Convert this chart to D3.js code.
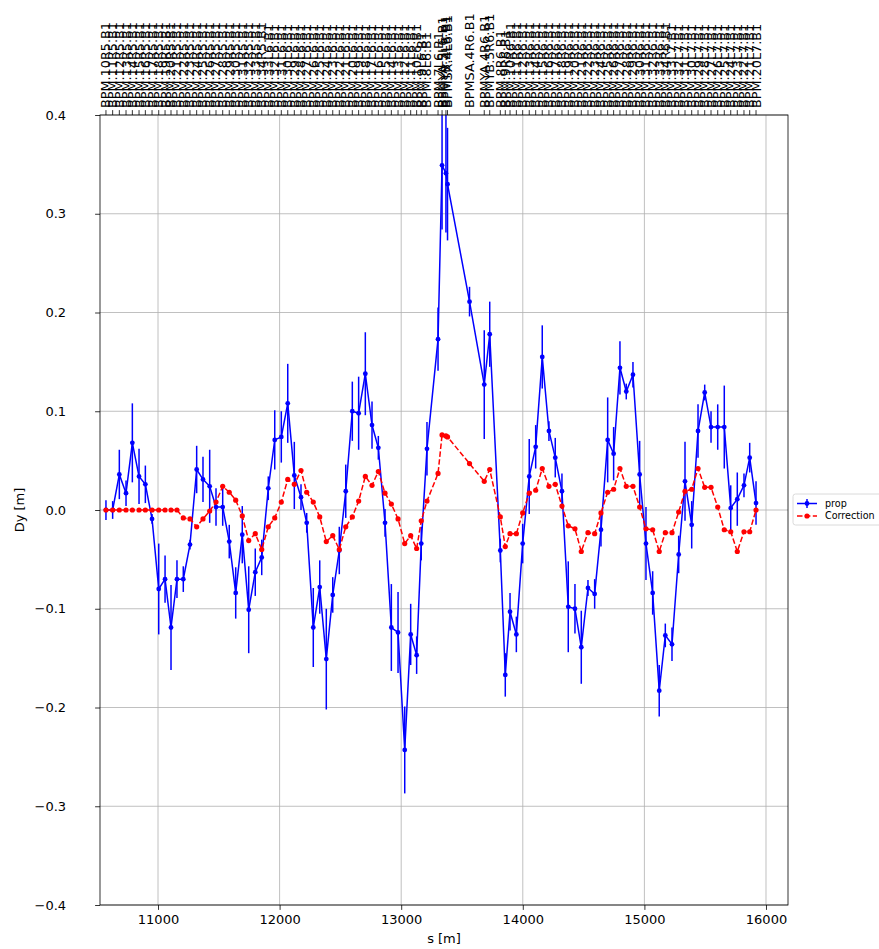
<!DOCTYPE html>
<html>
<head>
<meta charset="utf-8">
<script src="https://cdn.jsdelivr.net/npm/d3@7/dist/d3.min.js"></script>
<style>
  html, body { margin: 0; padding: 0; background: #fff; }
  svg { display: block; font-family: "DejaVu Sans", sans-serif; }
</style>
</head>
<body>
<svg id="chart" width="879" height="949"></svg>
<script>
// ---------------- data ----------------
const sPos = [10572,10627,10682,10737,10789,10844,10896,10951,11006,11058,
  11107,11156,11208,11263,11318,11370,11425,11477,11532,11586,
  11639,11693,11746,11800,11853,11907,11960,12014,12067,12121,
  12176,12223,12277,12330,12384,12437,12491,12544,12598,12650,
  12705,12760,12812,12867,12919,12974,13029,13078,13127,13165,
  13212,13303,13336,13368,13381,13562,13683,13728,13815,13856,
  13895,13947,13999,14053,14106,14160,14215,14267,14322,14374,
  14429,14481,14536,14591,14643,14698,14747,14799,14851,14906,
  14961,15013,15068,15122,15172,15227,15282,15334,15389,15441,
  15496,15548,15603,15657,15710,15764,15819,15866,15918];

const propY = [0.000,0.000,0.036,0.017,0.068,0.034,0.026,-0.009,-0.080,-0.070,
  -0.119,-0.070,-0.070,-0.035,0.041,0.031,0.024,0.003,0.003,-0.032,
  -0.084,-0.025,-0.101,-0.063,-0.048,0.022,0.071,0.074,0.108,0.035,
  0.013,-0.013,-0.119,-0.078,-0.151,-0.086,-0.041,0.019,0.100,0.098,
  0.138,0.086,0.063,-0.013,-0.119,-0.124,-0.243,-0.126,-0.147,-0.034,
  0.062,0.173,0.349,0.341,0.330,0.211,0.127,0.178,-0.041,-0.167,
  -0.103,-0.126,-0.034,0.034,0.064,0.155,0.080,0.053,0.019,-0.098,
  -0.100,-0.139,-0.079,-0.085,-0.020,0.071,0.057,0.144,0.120,0.137,
  0.036,-0.034,-0.084,-0.183,-0.127,-0.136,-0.045,0.029,-0.015,0.080,
  0.119,0.084,0.084,0.084,0.002,0.011,0.025,0.053,0.007];

const propErr = [0.010,0.009,0.025,0.013,0.040,0.028,0.019,0.005,0.046,0.024,
  0.043,0.019,0.013,0.005,0.024,0.023,0.037,0.019,0.019,0.017,
  0.026,0.029,0.044,0.024,0.018,0.012,0.030,0.026,0.040,0.034,
  0.013,0.010,0.040,0.027,0.051,0.018,0.024,0.027,0.030,0.037,
  0.042,0.024,0.012,0.014,0.044,0.041,0.044,0.031,0.019,0.017,
  0.027,0.032,0.065,0.060,0.057,0.015,0.055,0.033,0.012,0.022,
  0.019,0.018,0.020,0.038,0.022,0.032,0.010,0.020,0.018,0.046,
  0.025,0.037,0.008,0.015,0.017,0.043,0.027,0.027,0.008,0.013,
  0.034,0.037,0.022,0.026,0.012,0.017,0.019,0.040,0.024,0.027,
  0.008,0.016,0.023,0.042,0.023,0.027,0.012,0.015,0.022];

const corrY = [0,0,0,0,0,0,0,0,0,0,
  0,0,-0.008,-0.009,-0.017,-0.009,-0.001,0.008,0.024,0.018,
  0.010,-0.006,-0.031,-0.024,-0.040,-0.017,-0.008,0.008,0.031,0.026,
  0.040,0.018,0.008,-0.007,-0.032,-0.026,-0.040,-0.017,-0.007,0.009,
  0.034,0.025,0.039,0.017,0.006,-0.009,-0.034,-0.026,-0.039,-0.011,
  0.009,0.037,0.076,0.075,0.074,0.047,0.029,0.041,-0.007,-0.037,
  -0.024,-0.024,-0.003,0.017,0.020,0.042,0.024,0.026,0.004,-0.016,
  -0.019,-0.042,-0.023,-0.024,-0.003,0.018,0.021,0.042,0.024,0.024,
  0.003,-0.019,-0.020,-0.042,-0.023,-0.023,-0.002,0.019,0.021,0.042,
  0.023,0.023,0.003,-0.020,-0.022,-0.042,-0.022,-0.022,0.000];

const bpmNames = [
  "BPM.10R5.B1","BPM.11R5.B1","BPM.12R5.B1","BPM.13R5.B1","BPM.14R5.B1",
  "BPM.15R5.B1","BPM.16R5.B1","BPM.17R5.B1","BPM.18R5.B1","BPM.19R5.B1",
  "BPM.20R5.B1","BPM.21R5.B1","BPM.22R5.B1","BPM.23R5.B1","BPM.24R5.B1",
  "BPM.25R5.B1","BPM.26R5.B1","BPM.27R5.B1","BPM.28R5.B1","BPM.29R5.B1",
  "BPM.30R5.B1","BPM.31R5.B1","BPM.32R5.B1","BPM.33R5.B1","BPM.34R5.B1",
  "BPM.33L6.B1","BPM.32L6.B1","BPM.31L6.B1","BPM.30L6.B1","BPM.29L6.B1",
  "BPM.28L6.B1","BPM.27L6.B1","BPM.26L6.B1","BPM.25L6.B1","BPM.24L6.B1",
  "BPM.23L6.B1","BPM.22L6.B1","BPM.21L6.B1","BPM.20L6.B1","BPM.19L6.B1",
  "BPM.18L6.B1","BPM.17L6.B1","BPM.16L6.B1","BPM.15L6.B1","BPM.14L6.B1",
  "BPM.13L6.B1","BPM.12L6.B1","BPM.11L6.B1","BPM.10L6.B1","BPM.9L6.B1",
  "BPM.8L6.B1","BPM.7L6.B1",
  "BPMYA.5L6.B1","BPMYB.4L6.B1","BPMSX.4L6.B1",
  "BPMSA.4R6.B1","BPMYA.4R6.B1","BPMYB.5R6.B1",
  "BPM.8R6.B1","BPM.9R6.B1","BPM.10R6.B1","BPM.11R6.B1","BPM.12R6.B1",
  "BPM.13R6.B1","BPM.14R6.B1","BPM.15R6.B1","BPM.16R6.B1","BPM.17R6.B1",
  "BPM.18R6.B1","BPM.19R6.B1","BPM.20R6.B1","BPM.21R6.B1","BPM.22R6.B1",
  "BPM.23R6.B1","BPM.24R6.B1","BPM.25R6.B1","BPM.26R6.B1","BPM.27R6.B1",
  "BPM.28R6.B1","BPM.29R6.B1","BPM.30R6.B1","BPM.31R6.B1","BPM.32R6.B1",
  "BPM.33R6.B1","BPM.34R6.B1",
  "BPM.33L7.B1","BPM.32L7.B1","BPM.31L7.B1","BPM.30L7.B1","BPM.29L7.B1",
  "BPM.28L7.B1","BPM.27L7.B1","BPM.26L7.B1","BPM.25L7.B1","BPM.24L7.B1",
  "BPM.23L7.B1","BPM.22L7.B1","BPM.21L7.B1","BPM.20L7.B1"];

const xTicks = [11000, 12000, 13000, 14000, 15000, 16000];
const yTicks = [-0.4, -0.3, -0.2, -0.1, 0.0, 0.1, 0.2, 0.3, 0.4];
const seriesNames = ["prop", "Correction"];

// ---------------- layout ----------------
const L = 100, R = 788, T = 115, B = 905;
const FS = 13.0;
const svg = d3.select("#chart");

const x = d3.scaleLinear().domain([10523, 16181]).range([L, R]);
const y = d3.scaleLinear().domain([-0.4, 0.4]).range([B, T]);

svg.append("defs").append("clipPath").attr("id", "clip")
  .append("rect").attr("x", L).attr("y", T).attr("width", R - L).attr("height", B - T);

// grid
const grid = svg.append("g").attr("stroke", "#b0b0b0").attr("stroke-width", 0.8);
grid.selectAll(".gx").data(xTicks).join("line").attr("class", "gx")
  .attr("x1", d => x(d)).attr("x2", d => x(d)).attr("y1", T).attr("y2", B);
grid.selectAll(".gy").data(yTicks).join("line").attr("class", "gy")
  .attr("x1", L).attr("x2", R).attr("y1", d => y(d)).attr("y2", d => y(d));

// axes
const xAxisG = svg.append("g").attr("transform", `translate(0,${B})`)
  .call(d3.axisBottom(x).tickValues(xTicks).tickFormat(d3.format("d"))
        .tickSize(4.9).tickSizeOuter(0).tickPadding(4.5));
const yAxisG = svg.append("g").attr("transform", `translate(${L},0)`)
  .call(d3.axisLeft(y).tickValues(yTicks).tickFormat(d3.format(".1f"))
        .tickSize(4.9).tickSizeOuter(0).tickPadding(29));
[xAxisG, yAxisG].forEach(g => {
  g.select(".domain").remove();
  g.selectAll("text").attr("font-size", FS).attr("font-family", "DejaVu Sans").attr("fill", "#000");
  g.selectAll("line").attr("stroke", "#000").attr("stroke-width", 0.8);
});

// top BPM axis
const topAxisG = svg.append("g");
topAxisG.selectAll(".tt").data(sPos).join("line").attr("class", "tt")
  .attr("x1", d => x(d)).attr("x2", d => x(d))
  .attr("y1", T).attr("y2", T - 4.9)
  .attr("stroke", "#000").attr("stroke-width", 0.8);
topAxisG.selectAll(".tl").data(sPos).join("text").attr("class", "tl")
  .attr("transform", d => `translate(${x(d)},${T - 7}) rotate(-90)`)
  .attr("dy", "0.35em")
  .attr("text-anchor", "start")
  .attr("font-size", 12.8)
  .text((d, i) => bpmNames[i]);

// axis labels
svg.append("text").attr("x", (L + R) / 2).attr("y", 943)
  .attr("text-anchor", "middle").attr("font-size", FS).text("s [m]");
svg.append("text").attr("transform", `translate(24,${(T + B) / 2}) rotate(-90)`)
  .attr("text-anchor", "middle").attr("font-size", FS).text("Dy [m]");

// plot
const plot = svg.append("g").attr("clip-path", "url(#clip)");
const idx = d3.range(sPos.length);

plot.selectAll(".eb").data(idx).join("line").attr("class", "eb")
  .attr("x1", i => x(sPos[i])).attr("x2", i => x(sPos[i]))
  .attr("y1", i => y(propY[i] - propErr[i])).attr("y2", i => y(propY[i] + propErr[i]))
  .attr("stroke", "#0000ff").attr("stroke-width", 1.5);

const lineProp = d3.line().x(i => x(sPos[i])).y(i => y(propY[i]));
plot.append("path").attr("d", lineProp(idx))
  .attr("fill", "none").attr("stroke", "#0000ff").attr("stroke-width", 1.5);
plot.selectAll(".mp").data(idx).join("circle").attr("class", "mp")
  .attr("cx", i => x(sPos[i])).attr("cy", i => y(propY[i])).attr("r", 2.4)
  .attr("fill", "#0000ff");

const lineCorr = d3.line().x(i => x(sPos[i])).y(i => y(corrY[i]));
plot.append("path").attr("d", lineCorr(idx))
  .attr("fill", "none").attr("stroke", "#ff0000").attr("stroke-width", 1.5)
  .attr("stroke-dasharray", "5.5,2.4");
plot.selectAll(".mc").data(idx).join("circle").attr("class", "mc")
  .attr("cx", i => x(sPos[i])).attr("cy", i => y(corrY[i])).attr("r", 2.6)
  .attr("fill", "#ff0000");

// frame
svg.append("rect").attr("x", L).attr("y", T).attr("width", R - L).attr("height", B - T)
  .attr("fill", "none").attr("stroke", "#000").attr("stroke-width", 0.8);

// legend
const lg = svg.append("g").attr("transform", "translate(793,494)");
lg.append("rect").attr("x", 0).attr("y", 0).attr("width", 92).attr("height", 31)
  .attr("rx", 2.5).attr("fill", "#fff").attr("fill-opacity", 0.8)
  .attr("stroke", "#d0d0d0").attr("stroke-width", 0.8);
lg.append("line").attr("x1", 4).attr("x2", 24).attr("y1", 9.5).attr("y2", 9.5)
  .attr("stroke", "#0000ff").attr("stroke-width", 1.5);
lg.append("line").attr("x1", 14).attr("x2", 14).attr("y1", 5).attr("y2", 14)
  .attr("stroke", "#0000ff").attr("stroke-width", 1.5);
lg.append("circle").attr("cx", 14).attr("cy", 9.5).attr("r", 2.4).attr("fill", "#0000ff");
lg.append("text").attr("x", 32).attr("y", 9.5).attr("dy", "0.35em")
  .attr("font-size", 9.6).text(seriesNames[0]);
lg.append("line").attr("x1", 4).attr("x2", 24).attr("y1", 22).attr("y2", 22)
  .attr("stroke", "#ff0000").attr("stroke-width", 1.5).attr("stroke-dasharray", "5.5,2.4");
lg.append("circle").attr("cx", 14).attr("cy", 22).attr("r", 2.6).attr("fill", "#ff0000");
lg.append("text").attr("x", 32).attr("y", 22).attr("dy", "0.35em")
  .attr("font-size", 9.6).text(seriesNames[1]);
</script>
</body>
</html>
